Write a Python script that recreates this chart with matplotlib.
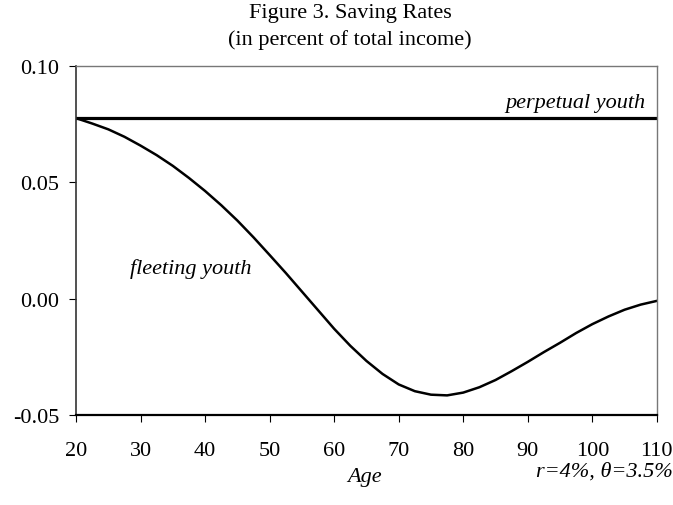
import numpy as np
import matplotlib.pyplot as plt

plt.rcParams["font.family"] = ["Liberation Serif", "DejaVu Serif"]

# ages and saving rates
ages = [20, 22.5, 25, 27.5, 30, 32.5, 35, 37.5, 40, 42.5, 45, 47.5, 50, 52.5,
        55, 57.5, 60, 62.5, 65, 67.5, 70, 72.5, 75, 77.5, 80, 82.5, 85, 87.5,
        90, 92.5, 95, 97.5, 100, 102.5, 105, 107.5, 110]
fleeting = [0.0775, 0.0752, 0.0727, 0.0695, 0.0657, 0.0616, 0.0570, 0.0518,
            0.0462, 0.0401, 0.0335, 0.0263, 0.0187, 0.0110, 0.0030, -0.0050,
            -0.0130, -0.0203, -0.0268, -0.0324, -0.0369, -0.0398, -0.0413,
            -0.0416, -0.0404, -0.0381, -0.0350, -0.0312, -0.0272, -0.0230,
            -0.0190, -0.0148, -0.0110, -0.0077, -0.0048, -0.0026, -0.0010]
perpetual_rate = 0.0775

xticks = [20, 30, 40, 50, 60, 70, 80, 90, 100, 110]
yticks = [-0.05, 0.00, 0.05, 0.10]
ytick_labels = ["-0.05", "0.00", "0.05", "0.10"]

fs = 16

fig = plt.figure(figsize=(6.73, 5.06), dpi=100)
ax = fig.add_axes([0.113, 0.178, 0.863, 0.690])

ax.plot(ages, fleeting, color="black", lw=1.8)
ax.plot([ages[0], ages[-1]], [perpetual_rate, perpetual_rate], color="black", lw=2.3)

ax.set_xlim(20, 110)
ax.set_ylim(-0.05, 0.10)
ax.set_xticks(xticks)
ax.set_xticklabels([str(t) for t in xticks])
ax.set_yticks(yticks)
ax.set_yticklabels(ytick_labels)
ax.tick_params(axis="both", direction="out", length=5, width=0.8, labelsize=fs)
ax.tick_params(axis="x", pad=14)
ax.tick_params(axis="y", pad=7)

for side in ["top", "right"]:
    ax.spines[side].set_color("#777777")
    ax.spines[side].set_linewidth(1.0)
ax.spines["left"].set_color("#333333")
ax.spines["left"].set_linewidth(1.2)
ax.spines["bottom"].set_color("black")
ax.spines["bottom"].set_linewidth(1.6)

ax.text(108.2, 0.0803, "perpetual youth", style="italic", fontsize=fs,
        ha="right", va="bottom")
ax.text(28.4, 0.013, "fleeting youth", style="italic", fontsize=fs,
        ha="left", va="center")

fig.text(0.52, 0.974, "Figure 3. Saving Rates", fontsize=fs, ha="center", va="center")
fig.text(0.52, 0.920, "(in percent of total income)", fontsize=fs, ha="center", va="center")
fig.text(0.542, 0.057, "Age", style="italic", fontsize=fs, ha="center", va="center")
fig.text(0.999, 0.068, "r=4%, θ=3.5%", style="italic", fontsize=fs, ha="right", va="center")

fig.savefig("out.png", dpi=100)
